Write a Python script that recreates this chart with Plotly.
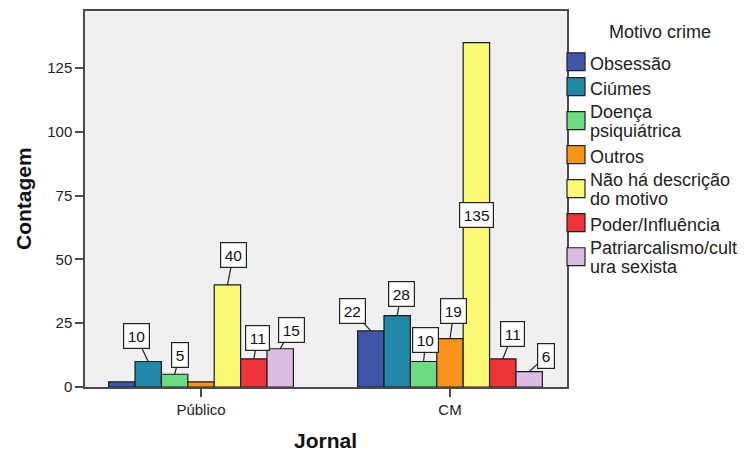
import plotly.graph_objects as go

# ---------------- data ----------------
jornais = ["Público", "CM"]
motivos = ["Obsessão", "Ciúmes", "Doença psiquiátrica", "Outros",
           "Não há descrição do motivo", "Poder/Influência",
           "Patriarcalismo/cultura sexista"]
legenda_linhas = [["Obsessão"], ["Ciúmes"], ["Doença", "psiquiátrica"], ["Outros"],
                  ["Não há descrição", "do motivo"], ["Poder/Influência"],
                  ["Patriarcalismo/cult", "ura sexista"]]
obsessao = [2, 22]
ciumes = [10, 28]
doenca = [5, 10]
outros = [2, 19]
sem_descricao = [40, 135]
poder = [11, 11]
patriarcalismo = [15, 6]
valores = [obsessao, ciumes, doenca, outros, sem_descricao, poder, patriarcalismo]
y_ticks = [0, 25, 50, 75, 100, 125]

# ---------------- style ----------------
cores = ["#3d56a9", "#2087a6", "#6fdb82", "#f7961b", "#fbf872", "#ee3339", "#dbbde3"]
# label offsets (px) per series, per jornal: None = hidden, "in" = inside bar middle
rotulo_pos = [
    [None, (-18, -20)],
    [(-12, -25), (4, -22)],
    [(5, -19), (2, -21)],
    [None, (4, -28)],
    [(6, -30), "in"],
    [(4, -21), (10, -25)],
    [(11, -19), (17, -16)],
]
W, H = 748, 456
ML, MR, MT, MB = 85, 181, 9, 69
PW, PH = W - ML - MR, H - MT - MB
FONT = "Liberation Sans, Arial, sans-serif"
BARGAP = 0.258
XR = [-0.466, 1.47]
YR = [0, 147.4]
LINE_H = 19.5


def px_x(px):
    return (px - ML) / PW


def px_y(py):
    return (H - MB - py) / PH


fig = go.Figure()
for i, m in enumerate(motivos):
    fig.add_trace(go.Bar(
        x=jornais, y=valores[i], name=m, marker_color=cores[i],
        marker_line_color="#1a1a1a", marker_line_width=1.2, showlegend=False))

n = len(motivos)
bw = (1 - BARGAP) / n
ann = []
for i in range(n):
    for j in range(len(jornais)):
        pos = rotulo_pos[i][j]
        if pos is None:
            continue
        xc = j + (i - (n - 1) / 2) * bw
        v = valores[i][j]
        common = dict(x=xc, xref="x", yref="y", text=str(v),
                      font=dict(family=FONT, size=15.5, color="#111"),
                      bgcolor="white", bordercolor="#222", borderwidth=1.2, borderpad=3.5)
        if pos == "in":
            ann.append(dict(y=v / 2, showarrow=False, **common))
        else:
            ann.append(dict(y=v, showarrow=True, ax=pos[0], ay=pos[1],
                            arrowhead=0, arrowwidth=1.2, arrowcolor="#222",
                            standoff=0, **common))

# axis titles
ann.append(dict(x=px_x(23), y=0.5, xref="paper", yref="paper", text="<b>Contagem</b>",
                textangle=-90, showarrow=False,
                font=dict(family=FONT, size=21, color="#111"),
                xanchor="center", yanchor="middle"))
ann.append(dict(x=0.5 * (px_x(85) + px_x(566)), y=px_y(441), xref="paper", yref="paper",
                text="<b>Jornal</b>", showarrow=False,
                font=dict(family=FONT, size=21, color="#111"),
                xanchor="center", yanchor="middle"))

# custom legend
ann.append(dict(x=px_x(660), y=px_y(30), xref="paper", yref="paper", text="Motivo crime",
                showarrow=False, font=dict(family=FONT, size=18, color="#222"),
                xanchor="center", yanchor="middle"))
linhas = [len(t) for t in legenda_linhas]
h1, h2 = 25, 43.4
centros = []
c = 60
for k, nl in enumerate(linhas):
    if k > 0:
        hp = h1 if linhas[k - 1] == 1 else h2
        hc = h1 if nl == 1 else h2
        c += (hp + hc) / 2
    centros.append(c)
shapes = []
for k, item in enumerate(legenda_linhas):
    cy = centros[k]
    shapes.append(dict(type="rect", xref="paper", yref="paper",
                       x0=px_x(567), x1=px_x(585), y0=px_y(cy - 9), y1=px_y(cy + 9),
                       fillcolor=cores[k], line=dict(color="#222", width=1.2)))
    nl = len(item)
    dy = 2 if nl == 1 else 1
    for li, txt in enumerate(item):
        ly = cy + dy + (li - (nl - 1) / 2) * LINE_H
        ann.append(dict(x=px_x(588), y=px_y(ly), xref="paper", yref="paper", text=txt,
                        showarrow=False, align="left", xanchor="left", yanchor="middle",
                        font=dict(family=FONT, size=18, color="#222")))

fig.update_layout(
    width=W, height=H, margin=dict(l=ML, r=MR, t=MT, b=MB, pad=0),
    paper_bgcolor="white", plot_bgcolor="#f0f0f0",
    barmode="group", bargap=BARGAP, bargroupgap=0,
    annotations=ann, shapes=shapes,
    font=dict(family=FONT, color="#333"),
)
fig.update_xaxes(type="category", range=XR, showline=True, mirror=True,
                 linecolor="#4a4a4a", linewidth=1.5, ticks="outside", ticklen=8,
                 tickcolor="#4a4a4a", tickwidth=1.5, showgrid=False,
                 tickfont=dict(family=FONT, size=15, color="#222"))
fig.update_yaxes(range=YR, tickvals=y_ticks, showline=True, mirror=True,
                 linecolor="#4a4a4a", linewidth=1.5, ticks="outside", ticklen=8,
                 tickcolor="#4a4a4a", tickwidth=1.5, showgrid=False, zeroline=False,
                 tickfont=dict(family=FONT, size=15, color="#222"))

fig.write_html("out.html", config={"displayModeBar": False},
               post_script="document.body.style.margin='0';document.body.style.padding='0';")
